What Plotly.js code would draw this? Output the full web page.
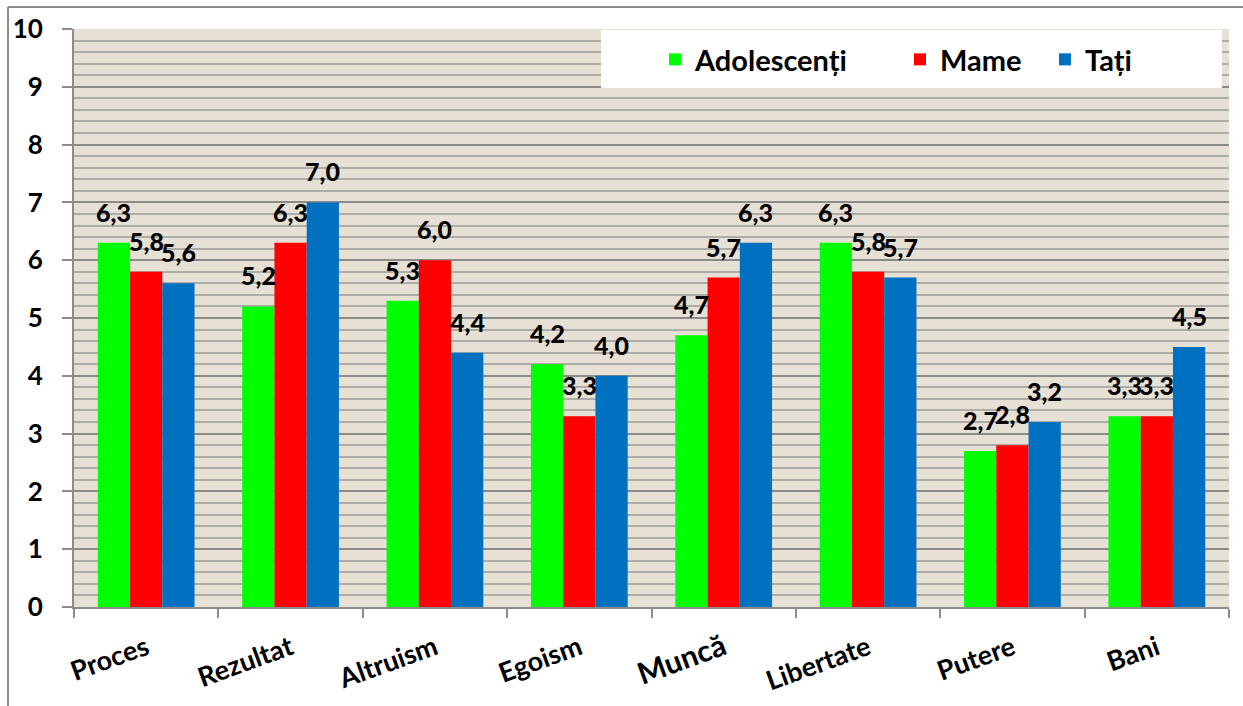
<!DOCTYPE html>
<html><head><meta charset="utf-8">
<script src="https://cdn.plot.ly/plotly-3.0.1.min.js"></script>
<style>html,body{margin:0;padding:0;background:#fff;}#chart{width:1243px;height:706px;}</style>
</head><body><div id="chart"></div>
<script>
const categories = ["Proces","Rezultat","Altruism","Egoism","Muncă","Libertate","Putere","Bani"];
const seriesNames = ["Adolescenți","Mame","Tați"];
const adolescenti = [6.3,5.2,5.3,4.2,4.7,6.3,2.7,3.3];
const mame = [5.8,6.3,6.0,3.3,5.7,5.8,2.8,3.3];
const tati = [5.6,7.0,4.4,4.0,6.3,5.7,3.2,4.5];
const colors = ["#00ff00","#ff0000","#0070c0"];
const yTicks = [0,1,2,3,4,5,6,7,8,9,10];

const FONT = "Lato, 'Open Sans', sans-serif";
const values = [adolescenti, mame, tati];
const BARGAP = 0.33;
const legendIds = ["legend","legend2","legend3"];
const traces = values.map((v,i)=>({
  type:"bar", name:seriesNames[i], x:categories, y:v, legend:legendIds[i],
  marker:{color:colors[i], line:{width:0}},
  hoverinfo:"skip"
}));

const L=74, R=1229, T=29, B=607, W=1243, H=706;
const pw=R-L, ph=B-T;
const px = x=>(x-L)/pw, py = y=>(B-y)/ph;
const barW = pw/categories.length*(1-BARGAP)/values.length;

const labels = [];
values.forEach((v,i)=>v.forEach((val,j)=>labels.push({
  x:categories[j], y:val, xref:"x", yref:"y",
  text:val.toFixed(1).replace(".",","), showarrow:false,
  xanchor:"center", yanchor:"bottom",
  xshift:(i-(values.length-1)/2)*barW, yshift:14,
  font:{family:FONT, size:25, color:"#000", weight:900}
})));

const ticktext = categories.map(c=>c==="Muncă" ? `<span style="font-size:30px">${c}</span>` : c);

const legendBase = {orientation:"h", xanchor:"left", yanchor:"top", y:py(34),
  bgcolor:"rgba(0,0,0,0)", borderwidth:0,
  font:{family:FONT, size:29, color:"#000", weight:"bold"}, itemwidth:30};

const layout = {
  width:W, height:H,
  margin:{l:L, r:W-R, t:T, b:H-B, pad:0},
  paper_bgcolor:"#ffffff", plot_bgcolor:"#e7e0d4",
  separators:", ",
  barmode:"group", bargap:BARGAP, bargroupgap:0,
  showlegend:true,
  legend:Object.assign({}, legendBase, {x:px(655)}),
  legend2:Object.assign({}, legendBase, {x:px(900)}),
  legend3:Object.assign({}, legendBase, {x:px(1045)}),
  xaxis:{type:"category", showgrid:false, showline:true, linecolor:"#8c8c8c", linewidth:2,
    ticks:"outside", tickson:"boundaries", ticklen:9, tickcolor:"#8c8c8c", tickwidth:2,
    tickmode:"array", tickvals:categories, ticktext:ticktext,
    tickangle:-20, ticklabelstandoff:13,
    tickfont:{family:FONT, size:27, color:"#000", weight:"bold"},
    fixedrange:true},
  yaxis:{range:[0,10], tickvals:yTicks, showline:true, linecolor:"#8c8c8c", linewidth:2,
    ticks:"outside", ticklen:10, tickcolor:"#8c8c8c", tickwidth:2, ticklabelstandoff:14,
    showgrid:true, gridcolor:"#8a8a8a", gridwidth:2, zeroline:false,
    minor:{dtick:0.2, showgrid:true, gridcolor:"#aeaca8", gridwidth:2, ticks:""},
    tickfont:{family:FONT, size:26, color:"#000", weight:"bold"}, fixedrange:true},
  annotations:labels,
  shapes:[
    {type:"rect", xref:"paper", yref:"paper", x0:px(601), x1:px(1222), y0:py(88), y1:py(30),
     fillcolor:"#ffffff", line:{width:0}, layer:"above"},
    {type:"line", xref:"paper", yref:"paper", x0:px(8), x1:px(1243), y0:py(7), y1:py(7),
     line:{color:"#8c8c8c", width:2}, layer:"above"},
    {type:"line", xref:"paper", yref:"paper", x0:px(8), x1:px(8), y0:py(7), y1:py(706),
     line:{color:"#8c8c8c", width:2}, layer:"above"}
  ]
};
Plotly.newPlot("chart", traces, layout, {displayModeBar:false, staticPlot:true});
</script></body></html>
